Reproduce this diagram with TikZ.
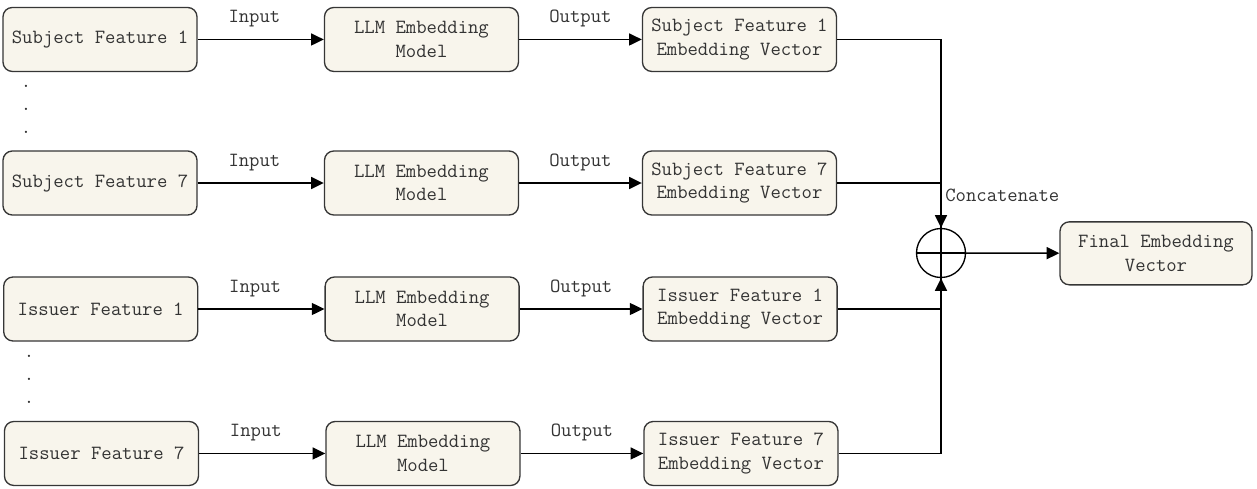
\documentclass[tikz,border=0pt]{standalone}
\usepackage{fontspec}
\usetikzlibrary{arrows.meta,positioning}
\definecolor{boxfill}{HTML}{F8F5EC}
\definecolor{boxline}{HTML}{363636}
\definecolor{boxtext}{HTML}{333333}
\tikzset
{
    featbox/.style = {rectangle, rounded corners=7pt, draw=boxline, fill=boxfill, line width=1pt, align=center, minimum width=145.5pt, minimum height=48pt, inner sep=2pt, text=boxtext},
    sumnode/.style = {circle, draw=black, line width=1pt, minimum size=36.75pt, inner sep=0pt},
    arrow/.style   = {line width=1.1pt, -{Triangle[length=9.5pt, width=9pt]}},
    link/.style    = {line width=1.1pt},
    edgelabel/.style = {above=8.5pt, inner sep=0pt, text=boxtext}
}

\begin{document}
\begin{tikzpicture}[font=\ttfamily\fontsize{15.1}{17.5}\selectfont]

	 \newcommand\COLA{241.1pt}
	 \newcommand\COLB{238.5pt}

	 \useasboundingbox (0,0) rectangle (942.75pt,-366.75pt);

	 % subject features
	 \node (sf1) [featbox] at (75pt, -29.6pt)                   {Subject Feature 1};
	 \node (sm1) [featbox] at ([shift=({\COLA, 0})]sf1)         {LLM Embedding\\Model};
	 \node (sv1) [featbox] at ([shift=({\COLB, 0})]sm1)         {Subject Feature 1\\Embedding Vector};

	 \node (sf7) [featbox] at (75pt, -137.25pt)                 {Subject Feature 7};
	 \node (sm7) [featbox] at ([shift=({\COLA, 0})]sf7)         {LLM Embedding\\Model};
	 \node (sv7) [featbox] at ([shift=({\COLB, 0})]sm7)         {Subject Feature 7\\Embedding Vector};

	 % issuer features
	 \node (if1) [featbox] at (75.5pt, -231.75pt)               {Issuer Feature 1};
	 \node (im1) [featbox] at ([shift=({\COLA, 0})]if1)         {LLM Embedding\\Model};
	 \node (iv1) [featbox] at ([shift=({\COLB, 0})]im1)         {Issuer Feature 1\\Embedding Vector};

	 \node (if7) [featbox] at (76.1pt, -340.1pt)                {Issuer Feature 7};
	 \node (im7) [featbox] at ([shift=({\COLA, 0})]if7)         {LLM Embedding\\Model};
	 \node (iv7) [featbox] at ([shift=({\COLB, 0})]im7)         {Issuer Feature 7\\Embedding Vector};

	 % elided rows
	 \node (sdots) [anchor=north, inner sep=0pt, align=center, text=boxtext] at (19.5pt, -63.5pt)  {.\\.\\.};
	 \node (idots) [anchor=north, inner sep=0pt, align=center, text=boxtext] at (21.75pt, -266pt) {.\\.\\.};

	 % concatenation
	 \node (cat) [sumnode] at (705.75pt, -189.75pt) {};
	 \draw[line width=1pt] (cat.north) -- (cat.south);
	 \draw[line width=1pt] (cat.west) -- (cat.east);
	 \node (catlbl) [anchor=base west, inner sep=0pt, text=boxtext] at ([shift=({3pt, 20pt})]cat.north) {Concatenate};

	 \node (fin) [featbox, minimum width=144pt, minimum height=47.25pt] at (867pt, -190pt) {Final Embedding\\Vector};

	 \path
			(sf1) edge[arrow] node[edgelabel, pos=0.45] {Input} (sm1)
			(sm1) edge[arrow] node[edgelabel] {Output} (sv1)
			(sf7) edge[arrow] node[edgelabel, pos=0.45] {Input} (sm7)
			(sm7) edge[arrow] node[edgelabel] {Output} (sv7)
			(if1) edge[arrow] node[edgelabel, pos=0.45] {Input} (im1)
			(im1) edge[arrow] node[edgelabel] {Output} (iv1)
			(if7) edge[arrow] node[edgelabel, pos=0.45] {Input} (im7)
			(im7) edge[arrow] node[edgelabel] {Output} (iv7)
			(cat) edge[arrow] (fin);

	 \draw[arrow] (sv1.east) -| (cat.north);
	 \draw[link]  (sv7.east) -| (cat.north);
	 \draw[arrow] (iv7.east) -| (cat.south);
	 \draw[link]  (iv1.east) -| (cat.south);
\end{tikzpicture}
\end{document}
